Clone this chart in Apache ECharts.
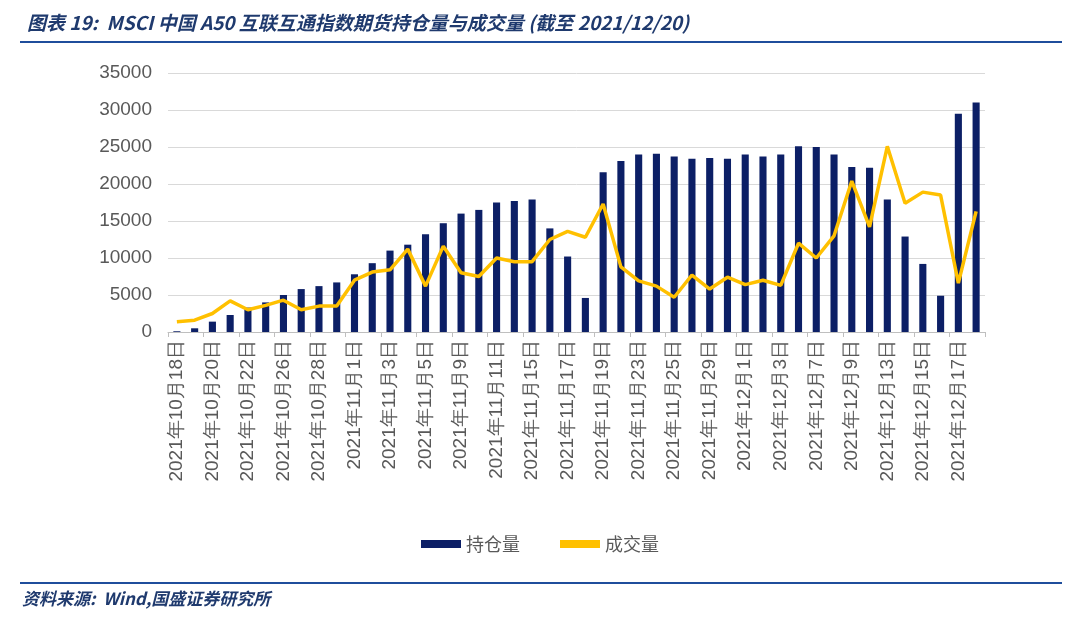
<!DOCTYPE html>
<html><head><meta charset="utf-8">
<script src="https://cdn.jsdelivr.net/npm/echarts@6/dist/echarts.min.js"></script>
<style>body{margin:0;background:#fff}#c{width:1080px;height:628px}</style>
</head><body><div id="c"></div>
<script>
const categories=["10月18日","10月19日","10月20日","10月21日","10月22日","10月25日","10月26日","10月27日","10月28日","10月29日","11月1日","11月2日","11月3日","11月4日","11月5日","11月8日","11月9日","11月10日","11月11日","11月12日","11月15日","11月16日","11月17日","11月18日","11月19日","11月22日","11月23日","11月24日","11月25日","11月26日","11月29日","11月30日","12月1日","12月2日","12月3日","12月6日","12月7日","12月8日","12月9日","12月10日","12月13日","12月14日","12月15日","12月16日","12月17日","12月20日"].map(s=>"2021年"+s);
const openInterest=[100,500,1400,2300,3300,4000,5000,5800,6200,6700,7800,9300,11000,11800,13200,14700,16000,16500,17500,17700,17900,14000,10200,4600,21600,23100,24000,24100,23700,23400,23500,23400,24000,23700,24000,25100,25000,24000,22300,22200,17900,12900,9200,4900,29500,31000];
const volume=[1400,1600,2500,4200,3000,3600,4300,3000,3500,3500,7000,8100,8400,11200,6200,11600,8000,7500,10000,9500,9500,12500,13600,12800,17300,8800,6900,6200,4700,7700,5800,7400,6400,7000,6300,12000,10000,13000,20400,14200,25100,17400,18900,18500,6600,16300];
const chart=echarts.init(document.getElementById('c'));
chart.setOption({
  animation:false,
  title:{text:'图表 19:  MSCI 中国 A50 互联互通指数期货持仓量与成交量 (截至 2021/12/20)',left:22,top:8,
    textStyle:{fontStyle:'italic',fontWeight:'bold',fontSize:19,color:'#1f3a6e',fontFamily:'Noto Sans CJK SC'}},
  graphic:[
    {type:'line',shape:{x1:20,y1:42,x2:1062,y2:42},style:{stroke:'#1f4e9c',lineWidth:2}},
    {type:'line',shape:{x1:20,y1:583,x2:1062,y2:583},style:{stroke:'#1f4e9c',lineWidth:2}},
    {type:'text',left:22,top:590,style:{text:'资料来源:  Wind,国盛证券研究所',font:'italic bold 17px "Noto Sans CJK SC"',fill:'#1f3a6e'}}
  ],
  legend:{bottom:70,left:'center',itemGap:40,itemWidth:40,itemHeight:8,textStyle:{fontSize:18,color:'#595959',fontFamily:'Noto Sans CJK SC'},
    data:[{name:'持仓量',icon:'rect'},{name:'成交量',icon:'rect',itemStyle:{color:'#ffc000'}}]},
  grid:{left:168,right:95,top:73,bottom:296},
  xAxis:{type:'category',data:categories,
    axisLine:{lineStyle:{color:'#bfbfbf'}},axisTick:{show:true,lineStyle:{color:'#bfbfbf'}},
    axisLabel:{rotate:90,interval:1,fontSize:19,color:'#595959',fontFamily:'Liberation Sans',margin:8}},
  yAxis:{type:'value',min:0,max:35000,interval:5000,
    axisLabel:{fontSize:19,color:'#595959',fontFamily:'Liberation Sans',formatter:v=>String(v),margin:16},
    splitLine:{lineStyle:{color:'#d9d9d9'}},axisLine:{show:false},axisTick:{show:false}},
  series:[
    {name:'持仓量',type:'bar',data:openInterest,barWidth:'40%',itemStyle:{color:'#0c1f66'}},
    {name:'成交量',type:'line',data:volume,showSymbol:false,symbol:'none',lineStyle:{color:'#ffc000',width:3.5},itemStyle:{color:'#ffc000'}}
  ]
});
</script></body></html>
